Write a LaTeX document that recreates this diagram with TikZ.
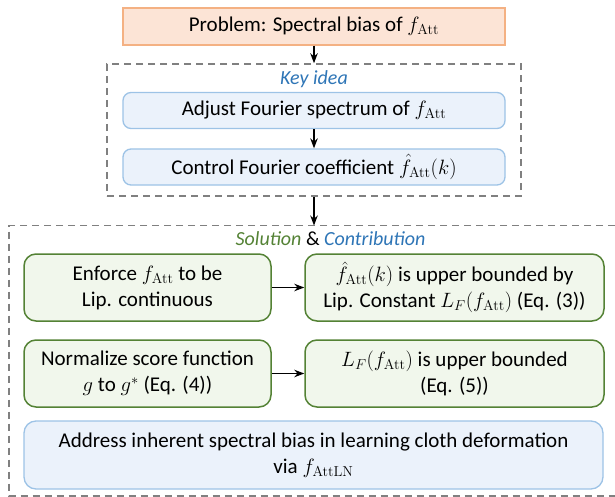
\documentclass[tikz,border=0pt]{standalone}
\usepackage[no-math]{fontspec}
\setmainfont{Carlito}
\usetikzlibrary{arrows.meta}
\definecolor{probfill}{HTML}{FCE4D6}
\definecolor{probedge}{HTML}{F4B183}
\definecolor{bluefill}{HTML}{EBF2FB}
\definecolor{blueedge}{HTML}{9DC3E6}
\definecolor{greenfill}{HTML}{F1F7EC}
\definecolor{greenedge}{HTML}{548235}
\definecolor{keyblue}{HTML}{2E75B6}
\definecolor{dashgray}{HTML}{808080}
\tikzset{
  txt/.style={font=\fontsize{21}{26}\selectfont, align=center, inner sep=0pt},
  probbox/.style={txt, draw=probedge, fill=probfill, line width=1.5pt, minimum width=382pt, minimum height=37pt},
  bluebox/.style={txt, draw=blueedge, fill=bluefill, line width=1.3pt, rounded corners=8pt},
  greenbox/.style={txt, draw=greenedge, fill=greenfill, line width=1.5pt, rounded corners=12pt, minimum height=67pt},
  dashframe/.style={draw=dashgray, line width=1.5pt, dash pattern=on 7pt off 5pt},
  arr/.style={-{Stealth[length=10pt,width=7.5pt]}, line width=1.3pt, black},
  grouplabel/.style={font=\fontsize{20}{24}\selectfont\itshape, inner sep=0pt}
}
\begin{document}
\begin{tikzpicture}[x=1pt,y=-1pt]
\useasboundingbox (0,0) rectangle (615,497);
% frames
\node[dashframe, minimum width=414pt, minimum height=132pt, inner sep=0pt] (kframe) at (314,130) {};
\coordinate (s2top) at (314,225.5);
\draw[dashframe] (615,225.5) -- (9,225.5) -- (9,496) -- (615,496);
% problem
\node[probbox] (prob) at (314,26.5) {Problem: Spectral bias of $f_{\mathrm{Att}}$};
% key idea
\node[grouplabel, text=keyblue] (keylbl) at (314,79) {Key idea};
\node[bluebox, minimum width=382pt, minimum height=36pt] (adj) at (314,110.5) {Adjust Fourier spectrum of $f_{\mathrm{Att}}$};
\node[bluebox, minimum width=382pt, minimum height=36pt] (ctrl) at (314,167) {Control Fourier coefficient $\hat{f}_{\mathrm{Att}}(k)$};
% solution
\node[grouplabel] (sollbl) at (330.5,239) {\textcolor{greenedge}{Solution} \textup{\&} \textcolor{keyblue}{Contribution}};
\node[greenbox, minimum width=247pt] (g1) at (147.5,287.5) {Enforce $f_{\mathrm{Att}}$ to be\\Lip. continuous};
\node[greenbox, minimum width=299pt] (g2) at (454.5,287.5) {$\hat{f}_{\mathrm{Att}}(k)$ is upper bounded by\\Lip. Constant $L_F(f_{\mathrm{Att}})$ (Eq. (3))};
\node[greenbox, minimum width=247pt] (g3) at (147.5,373.5) {Normalize score function\\$g$ to $g^{*}$ (Eq. (4))};
\node[greenbox, minimum width=299pt] (g4) at (454.5,373.5) {$L_F(f_{\mathrm{Att}})$ is upper bounded\\(Eq. (5))};
\node[bluebox, minimum width=579pt, minimum height=68pt, rounded corners=12pt] (addr) at (313.5,455) {Address inherent spectral bias in learning cloth deformation\\via $f_{\mathrm{AttLN}}$};
% arrows
\draw[arr] (prob.south) -- (kframe.north);
\draw[arr] (adj.south) -- (ctrl.north);
\draw[arr] (kframe.south) -- (s2top);
\draw[arr] (g1.east) -- (g2.west);
\draw[arr] (g3.east) -- (g4.west);
\end{tikzpicture}
\end{document}
